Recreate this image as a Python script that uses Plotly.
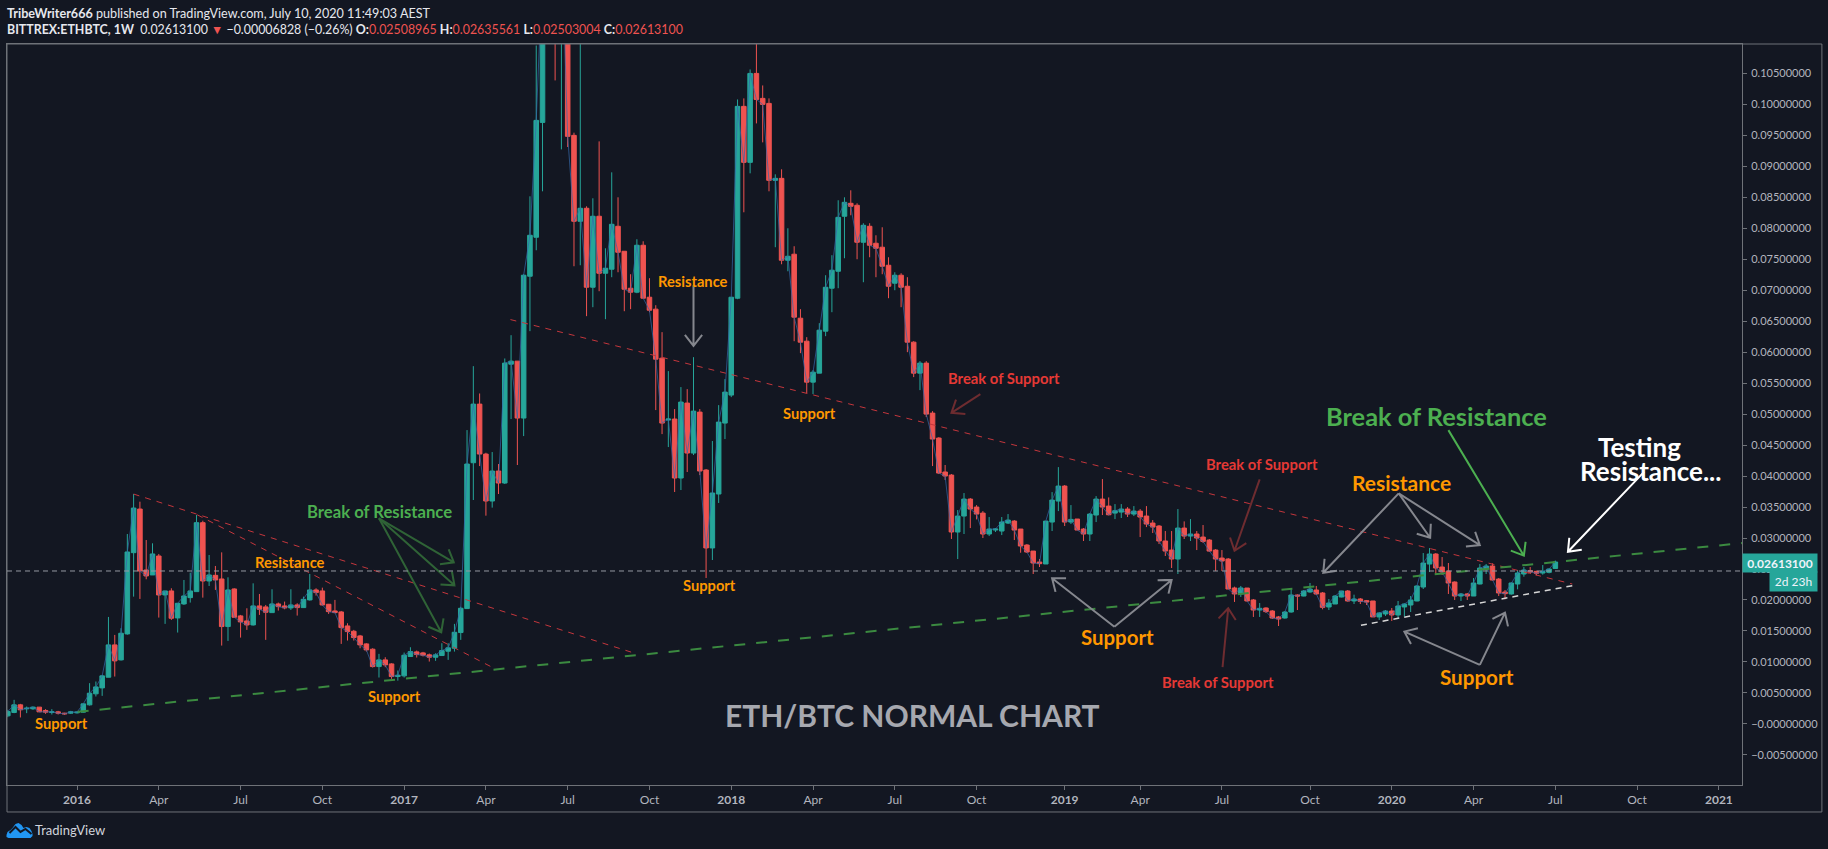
#!/usr/bin/python3
import numpy as np
import pandas as pd
import plotly.graph_objects as go

# weekly ETHBTC candles, values in mBTC
opens = [1.30,1.84,3.07,2.43,2.43,2.70,2.16,1.84,1.94,1.73,
 1.73,1.78,1.89,3.07,4.85,5.81,7.53,12.75,10.33,14.52,
 27.64,34.68,24.84,24.04,27.10,20.81,21.46,17.10,19.36,20.38,
 21.35,32.48,23.07,23.98,23.39,15.71,21.78,17.43,16.62,15.97,
 19.04,18.88,17.96,19.36,19.04,18.72,19.20,18.77,20.01,21.62,
 21.46,19.31,18.23,18.07,15.81,14.95,14.20,12.91,12.05,9.25,
 10.33,9.68,7.64,7.75,10.87,11.62,11.46,11.14,10.76,11.03,
 11.73,12.21,14.74,18.61,42.16,51.62,43.56,35.98,40.82,38.88,
 58.07,58.56,49.37,72.27,78.56,97.10,122,128,118,127,
 95.01,81.14,83.24,70.49,81.95,72.75,73.40,80.33,76.30,70.33,
 69.69,77.27,68.88,66.95,59.04,49.05,49.21,39.69,51.79,43.72,
 50.33,40.98,28.40,37.11,48.56,53.08,68.72,99.69,90.65,105.01,
 100.98,100.17,87.75,88.07,74.85,75.82,65.49,61.78,55.17,56.62,
 63.40,70.33,73.07,81.95,84.04,83.72,77.75,80.33,77.59,76.95,
 74.04,71.14,72.43,70.65,61.62,56.62,58.24,50.17,46.14,40.66,
 40.17,30.97,33.55,36.29,35.0,34.03,30.65,31.29,31.13,32.42,
 32.74,31.45,28.87,27.90,26.13,25.81,32.58,35.97,38.39,32.58,
 33.07,31.45,30.65,33.71,36.29,35.16,34.03,34.19,34.68,33.87,
 34.35,33.55,32.42,31.94,29.52,28.06,26.61,31.61,30.32,30.65,
 30.16,29.68,28.06,26.77,26.61,21.94,20.97,21.93,20.0,18.38,
 18.71,18.22,17.26,17.09,18.06,20.80,20.64,21.29,21.61,21.13,
 18.87,19.35,20.48,21.45,19.84,20.16,19.89,19.84,17.26,17.74,
 18.22,17.58,18.87,19.19,19.84,22.09,25.80,27.42,25.32,24.67,
 22.90,20.64,20.97,20.64,22.58,25.0,25.48,23.38,21.29,20.97,
 22.58,24.19,24.73,24.62,24.35,24.46,25.09]
highs = [2.27,3.88,3.23,2.80,2.80,2.72,2.37,2.37,2.10,1.78,
 2.10,2.00,3.34,6.57,6.84,7.91,17.26,14.36,15.44,30.65,
 37.10,35.87,29.68,29.15,27.43,21.46,21.89,19.47,23.23,24.41,
 33.72,32.80,27.26,25.49,27.69,23.66,21.89,17.59,18.66,22.69,
 20.97,19.20,21.73,19.58,19.74,21.73,19.47,20.54,24.20,21.89,
 21.99,19.36,20.01,18.23,16.24,15.17,14.36,13.02,12.21,11.30,
 10.76,9.79,8.61,11.51,12.37,11.83,11.62,11.35,11.40,13.02,
 13.02,16.14,18.9,47.43,57.75,53.34,43.77,43.88,41.95,58.99,
 62.75,58.56,72.59,85.17,109.52,133,138,156,140,131,
 95.44,112,83.56,84.85,94.04,76.78,89.04,85.01,76.30,72.59,
 78.24,77.91,71.95,67.59,63.24,56.95,50.82,54.37,54.04,59.20,
 50.82,41.14,45.66,51.46,55.66,68.88,100.81,100.98,105.65,112,
 103.07,100.98,88.72,89.53,80.01,77.11,66.95,62.43,57.11,64.69,
 72.43,75.66,84.53,85.01,86.14,84.04,80.82,80.82,78.88,80.17,
 75.33,72.91,72.75,72.11,61.78,58.56,58.56,50.49,46.30,41.79,
 40.33,34.52,37.26,36.45,35.32,34.35,33.39,31.61,33.39,33.87,
 32.90,31.45,29.03,27.90,26.61,32.74,37.42,41.45,38.55,35.32,
 33.07,31.61,34.03,36.77,39.52,36.56,35.48,35.48,35.0,35.16,
 34.68,35.16,32.90,32.10,31.13,31.13,34.68,32.69,33.06,31.13,
 32.10,29.84,28.22,28.06,26.77,22.15,22.26,21.93,20.16,19.51,
 18.81,18.38,17.42,18.22,21.93,20.9,21.61,22.74,22.26,21.29,
 20.16,20.80,21.45,21.61,20.86,20.32,20.0,19.84,18.01,18.38,
 18.71,19.84,19.46,20.64,22.36,27.58,28.38,27.58,26.93,25.97,
 23.01,21.13,21.13,23.55,25.80,25.80,25.91,23.55,21.61,22.85,
 24.84,25.32,25.32,24.73,25.64,25.05,26.36]
lows = [1.08,1.73,1.03,1.73,2.27,1.94,1.62,1.51,1.51,1.46,
 1.62,1.67,1.84,2.96,4.42,4.52,7.53,7.64,10.22,14.4,
 20.54,20.17,23.34,24.04,17.16,16.14,16.78,14.74,19.20,19.58,
 21.35,20.38,22.26,21.62,12.64,13.39,17.21,13.93,15.17,15.87,
 17.59,13.56,17.96,18.29,18.50,18.39,17.48,18.72,19.90,20.71,
 19.09,17.75,17.86,12.91,13.45,13.45,12.21,11.67,9.09,7.48,
 9.15,7.27,6.98,7.48,10.81,10.71,10.87,10.06,10.17,10.97,
 10.33,11.67,13.56,18.61,36.14,41.62,33.61,34.91,37.11,38.72,
 49.21,41.79,46.46,63.40,76.46,85.98,112,103.88,92.75,93.13,
 73.88,74.04,65.82,67.27,69.85,65.33,72.11,72.91,66.62,66.95,
 69.53,68.72,66.46,50.66,46.78,44.69,37.43,37.75,40.66,43.40,
 40.17,23.55,26.45,35.66,45.98,52.75,68.56,82.59,88.88,96.94,
 93.88,85.98,76.95,74.20,73.07,61.78,59.85,53.40,53.24,56.62,
 62.59,66.46,70.33,75.17,82.11,75.01,71.30,75.33,72.11,72.59,
 68.72,70.01,67.27,60.01,55.98,53.88,49.53,41.62,40.33,39.37,
 29.85,26.61,30.65,31.61,33.01,30.0,30.32,30.97,30.48,32.26,
 29.68,27.63,27.58,24.19,25.32,25.81,31.13,34.35,31.94,32.26,
 31.29,29.52,29.52,32.58,33.71,33.66,33.06,33.23,33.39,33.55,
 30.16,31.77,30.81,29.03,27.10,25.16,24.19,29.84,29.52,28.06,
 29.19,27.74,24.68,24.68,21.77,19.68,20.49,19.73,17.26,17.26,
 17.90,16.93,15.80,16.99,17.95,18.38,20.59,21.18,20.80,18.49,
 18.38,19.35,20.43,19.73,19.35,19.35,19.19,17.26,16.77,17.42,
 16.61,16.93,17.31,18.06,19.78,21.77,24.51,24.03,24.03,20.97,
 20.0,19.84,20.0,20.64,22.52,24.19,23.12,20.64,20.11,20.86,
 21.72,23.76,24.19,23.98,24.08,24.30,25.03]
closes = [2.00,3.07,2.27,2.53,2.70,1.94,1.89,1.94,1.73,1.62,
 1.94,1.89,3.23,4.95,5.97,7.75,12.75,10.17,14.63,27.75,
 34.84,24.68,23.88,27.43,20.81,21.46,17.05,19.47,20.65,21.46,
 32.48,23.07,24.04,23.23,15.71,21.62,17.21,16.46,15.97,19.04,
 18.50,18.02,19.36,18.93,18.72,19.20,18.77,20.11,21.62,21.19,
 19.20,18.12,17.96,15.54,14.90,13.93,12.75,11.94,9.25,10.33,
 9.52,7.64,7.86,11.08,11.67,11.19,11.08,10.76,11.14,11.83,
 12.27,14.79,18.66,41.95,51.62,43.56,35.98,40.82,38.88,58.24,
 58.56,49.37,72.43,78.88,97.43,122,128,118,127,94.85,
 81.14,83.24,70.49,81.95,72.75,73.56,80.65,76.14,70.17,69.69,
 77.27,68.72,66.78,58.88,48.56,49.21,39.69,51.95,43.72,50.49,
 40.82,28.40,37.27,48.72,53.56,68.88,99.69,90.65,105.01,100.81,
 100.01,87.75,88.07,74.85,75.49,65.66,61.62,55.17,56.78,63.56,
 70.49,73.24,81.78,84.20,83.56,77.75,80.49,77.27,76.78,73.88,
 70.65,72.43,70.49,61.62,56.62,58.24,50.01,45.98,40.49,40.01,
 30.98,33.55,36.29,34.68,33.87,30.65,31.45,31.45,32.58,32.90,
 31.29,28.71,27.74,25.97,25.86,32.74,36.13,38.39,32.58,33.01,
 31.29,30.65,33.87,36.29,35.0,33.76,34.41,34.68,33.87,34.35,
 33.39,32.26,31.77,29.52,27.90,26.61,31.61,30.32,30.65,30.0,
 29.46,27.90,26.61,26.29,21.77,20.97,21.94,19.84,18.38,18.65,
 18.12,17.09,16.93,18.06,20.80,20.64,21.45,21.77,20.97,18.81,
 19.51,20.64,21.45,19.84,20.16,19.78,19.67,17.26,17.90,18.22,
 17.58,19.03,19.35,20.0,22.26,25.97,27.42,25.16,24.51,22.74,
 20.64,20.97,20.64,22.74,25.16,25.48,23.22,21.13,21.02,22.74,
 24.35,24.84,24.51,24.30,24.62,25.0,26.13]

first_bar = pd.Timestamp("2015-10-19")
dates = pd.date_range(first_bar, periods=len(closes), freq="7D")

y_ticks = [round(-0.005 + i * 0.005, 3) for i in range(23)]
x_tick_dates = ["2016-01-04", "2016-04-04", "2016-07-04", "2016-10-03",
                "2017-01-02", "2017-04-03", "2017-07-03", "2017-10-02",
                "2018-01-01", "2018-04-02", "2018-07-02", "2018-10-01",
                "2019-01-07", "2019-04-01", "2019-07-01", "2019-10-07",
                "2020-01-06", "2020-04-06", "2020-07-06", "2020-10-05",
                "2021-01-04"]
x_tick_text = ["<b>2016</b>", "Apr", "Jul", "Oct", "<b>2017</b>", "Apr", "Jul", "Oct",
               "<b>2018</b>", "Apr", "Jul", "Oct", "<b>2019</b>", "Apr", "Jul", "Oct",
               "<b>2020</b>", "Apr", "Jul", "Oct", "<b>2021</b>"]

# drawings, as (weeks since first bar, price)
hline_price = 0.02468
red_trend_1 = [(20.0, 0.03710), (99.5, 0.01145)]
red_trend_2 = [(30.1, 0.03376), (77.5, 0.00887)]
red_trend_3 = [(79.9, 0.06527), (248.7, 0.02258)]
green_trend = [(11.1, 0.00194), (275.7, 0.02919)]
white_trend = [(215.1, 0.01592), (248.7, 0.02231)]

dark_green_arrows = [((59.0, 0.03318), (70.9, 0.02608)),
                     ((59.0, 0.03318), (71.0, 0.02237)),
                     ((59.0, 0.03318), (68.9, 0.01479))]
grey_arrows = [((109.0, 0.07081), (109.0, 0.06102)),
               ((175.9, 0.01569), (166.0, 0.02350)),
               ((175.9, 0.01569), (185.0, 0.02323)),
               ((221.1, 0.03721), (209.1, 0.02440)),
               ((221.1, 0.03721), (226.1, 0.03005)),
               ((221.1, 0.03721), (234.0, 0.02887)),
               ((234.0, 0.00952), (222.0, 0.01489)),
               ((234.0, 0.00952), (238.0, 0.01795))]
dark_red_arrows = [((154.6, 0.05323), (150.0, 0.05021)),
                   ((199.0, 0.03947), (195.0, 0.02795)),
                   ((193.1, 0.00915), (194.0, 0.01866))]
green_arrows = [((229.0, 0.04742), (241.0, 0.02715))]
white_arrows = [((260.1, 0.04069), (248.0, 0.02779))]

ORANGE = "#ff9800"
GREEN = "#4caf50"
RED = "#e53935"
labels = [("Support", 8.5, 0.00011, ORANGE, 14.7),
          ("Support", 61.5, 0.00456, ORANGE, 14.7),
          ("Resistance", 44.9, 0.02608, ORANGE, 14.7),
          ("Break of Resistance", 59.1, 0.03424, GREEN, 16.7),
          ("Resistance", 108.9, 0.07145, ORANGE, 14.7),
          ("Support", 127.5, 0.05011, ORANGE, 14.7),
          ("Support", 111.6, 0.02242, ORANGE, 14.7),
          ("Break of Support", 158.3, 0.05584, RED, 14.8),
          ("Break of Support", 199.3, 0.04189, RED, 14.8),
          ("Break of Support", 192.3, 0.00673, RED, 14.8),
          ("Support", 176.4, 0.01398, ORANGE, 20.4),
          ("Resistance", 221.5, 0.03898, ORANGE, 21),
          ("Support", 233.5, 0.00763, ORANGE, 20.6),
          ("Break of Resistance", 227.1, 0.04968, GREEN, 25.4),
          ("Testing", 259.4, 0.04473, "#ffffff", 26),
          ("Resistance...", 261.2, 0.04085, "#ffffff", 26),
          ("ETH/BTC NORMAL CHART", 143.8, 0.00150, "#a6a8af", 30)]

BG = "#131722"
BORDER = "#6f7278"
AXIS_TEXT = "#b2b5be"
FONT = "Lato"

# plot box, in pixels of the 1828x849 page
PLOT_L, PLOT_R, PLOT_T, PLOT_B = 6.5, 1741.7, 43.5, 785.0
PX_PER_BAR = 6.29
PX_PER_PRICE = 6200.0


def bar_date(bar):
    return first_bar + pd.Timedelta(days=float(bar) * 7)


def paper_x(px):
    return (px - PLOT_L) / (PLOT_R - PLOT_L)


def paper_y(py):
    return (PLOT_B - py) / (PLOT_B - PLOT_T)


def line_trace(points, color, width, dash="solid"):
    return go.Scatter(x=[None if p[0] is None else bar_date(p[0]) for p in points],
                      y=[p[1] for p in points], mode="lines",
                      line=dict(color=color, width=width, dash=dash),
                      hoverinfo="skip", showlegend=False)


def arrow_points(tail, tip, arm=14.0, spread=np.radians(38)):
    # head arms worked out in screen space so they look the same on every arrow
    dx = (tip[0] - tail[0]) * PX_PER_BAR
    dy = (tip[1] - tail[1]) * PX_PER_PRICE
    n = np.hypot(dx, dy)
    ux, uy = dx / n, dy / n
    pts = [tail, tip]
    for sign in (1, -1):
        ca, sa = np.cos(spread), np.sin(sign * spread)
        ax = -(ux * ca - uy * sa) * arm
        ay = -(ux * sa + uy * ca) * arm
        pts.append((tip[0] + ax / PX_PER_BAR, tip[1] + ay / PX_PER_PRICE))
        pts.append(tip)
    return pts + [(None, None)]


def arrows_trace(arrows, color, width=2):
    pts = []
    for tail, tip in arrows:
        pts += arrow_points(tail, tip)
    return line_trace(pts, color, width)


fig = go.Figure()
fig.add_trace(go.Candlestick(
    x=dates,
    open=np.array(opens) / 1000, high=np.array(highs) / 1000,
    low=np.array(lows) / 1000, close=np.array(closes) / 1000,
    increasing=dict(line=dict(color="#26a69a", width=1), fillcolor="#26a69a"),
    decreasing=dict(line=dict(color="#ef5350", width=1), fillcolor="#ef5350"),
    whiskerwidth=0, showlegend=False))
fig.add_trace(go.Scatter(x=dates, y=np.array(closes) / 1000, mode="lines",
                         line=dict(color="rgba(52,104,170,0.7)", width=1),
                         hoverinfo="skip", showlegend=False))

fig.add_trace(line_trace(red_trend_1, "#c4363c", 1, "6px,6px"))
fig.add_trace(line_trace(red_trend_2, "#c4363c", 1, "6px,6px"))
fig.add_trace(line_trace(red_trend_3, "#c4363c", 1, "6px,6px"))
fig.add_trace(line_trace(green_trend, "#3b8a40", 2, "11px,11px"))
fig.add_trace(line_trace(white_trend, "#d6d6d6", 1.5, "6px,5px"))
fig.add_trace(arrows_trace(dark_green_arrows, "#2f6336"))
fig.add_trace(arrows_trace(grey_arrows, "#85878e"))
fig.add_trace(arrows_trace(dark_red_arrows, "#6e2c30"))
fig.add_trace(arrows_trace(green_arrows, GREEN))
fig.add_trace(arrows_trace(white_arrows, "#ffffff"))

annotations = []
for text, bar, price, color, size in labels:
    annotations.append(dict(x=bar_date(bar), y=price, xref="x", yref="y", text=f"<b>{text}</b>",
                            showarrow=False, align="center",
                            font=dict(family=FONT, color=color, size=size)))

red_val = '<span style="color:#ef5350">%s</span>'
header = [
    (4.5, 13, 12.6, "<b>TribeWriter666</b> published on TradingView.com, July 10, 2020 11:49:03 AEST"),
    (4.5, 29, 12.4, "<b>BITTREX:ETHBTC, 1W</b>  0.02613100 <span style=\"color:#ef5350\">▼</span> "
            "−0.00006828 (−0.26%) <b>O:</b>" + red_val % "0.02508965" +
            " <b>H:</b>" + red_val % "0.02635561" + " <b>L:</b>" + red_val % "0.02503004" +
            " <b>C:</b>" + red_val % "0.02613100"),
]
for px, py, size, text in header:
    annotations.append(dict(x=paper_x(px), y=paper_y(py), xref="paper", yref="paper", text=text,
                            showarrow=False, xanchor="left", yanchor="middle",
                            font=dict(family=FONT, color="#e6e8ee", size=size)))
annotations.append(dict(x=paper_x(33), y=paper_y(830.5), xref="paper", yref="paper", text="TradingView",
                        showarrow=False, xanchor="left", yanchor="middle",
                        font=dict(family=FONT, color="#d1d4dc", size=13)))
annotations.append(dict(x=paper_x(1741.7), y=paper_y(563.3), xref="paper", yref="paper", text="<b>0.02613100</b>",
                        showarrow=False, xanchor="left", yanchor="middle", align="center",
                        width=72, height=16, bgcolor="#26a69a",
                        font=dict(family=FONT, color="#f0f3fa", size=12)))
annotations.append(dict(x=paper_x(1769), y=paper_y(581.5), xref="paper", yref="paper", text="2d 23h",
                        showarrow=False, xanchor="left", yanchor="middle", align="center",
                        width=45, height=17, bgcolor="#26a69a",
                        font=dict(family=FONT, color="#f0f3fa", size=12)))

logo_x = [6, 7, 10, 12, 15, 18, 21, 23, 26, 29, 31, 32, 32, 30, 8, 6, 6]
logo_y = [835, 832, 830, 828, 824, 823, 825, 828, 827, 828, 831, 834, 836, 838, 838, 837, 835]
logo_path = "M" + " L".join(f"{paper_x(a):.5f},{paper_y(b):.5f}" for a, b in zip(logo_x, logo_y)) + " Z"
zig_x = [9, 15, 20, 25, 31]
zig_y = [833, 827, 832, 829, 834]
zig_path = "M" + " L".join(f"{paper_x(a):.5f},{paper_y(b):.5f}" for a, b in zip(zig_x, zig_y))

shapes = [
    dict(type="rect", xref="paper", yref="paper", x0=0, x1=paper_x(1821.6), y0=paper_y(812), y1=1,
         line=dict(color=BORDER, width=1), layer="above"),
    dict(type="line", xref="paper", yref="y", x0=0, x1=1, y0=hline_price, y1=hline_price,
         line=dict(color="#9598a1", width=1, dash="5px,4px"), layer="above"),
    dict(type="path", xref="paper", yref="paper", path=logo_path, fillcolor="#2196f3",
         line=dict(width=0), layer="above"),
    dict(type="path", xref="paper", yref="paper", path=zig_path, line=dict(color=BG, width=2), layer="above"),
]

fig.update_layout(
    width=1828, height=849, autosize=False,
    margin=dict(l=PLOT_L, r=1828 - PLOT_R, t=PLOT_T, b=849 - PLOT_B, pad=0),
    paper_bgcolor=BG, plot_bgcolor=BG,
    showlegend=False, boxgap=0.15, boxgroupgap=0.15,
    hovermode=False,
    annotations=annotations, shapes=shapes,
    xaxis=dict(type="date", rangeslider=dict(visible=False),
               range=[first_bar - pd.Timedelta(days=0.9), first_bar + pd.Timedelta(days=1929.7)],
               tickmode="array", tickvals=x_tick_dates, ticktext=x_tick_text,
               ticks="outside", ticklen=4, tickcolor=BORDER, tickfont=dict(family=FONT, color=AXIS_TEXT, size=12),
               showgrid=False, zeroline=False, showline=True, linecolor=BORDER, linewidth=1, mirror=True),
    yaxis=dict(side="right", range=[-0.00987, 0.10976], tickmode="array", tickvals=y_ticks,
               ticktext=[("−" if v <= 0 else "") + f"{abs(v):.8f}" for v in y_ticks],
               ticks="outside", ticklen=4, tickcolor=BORDER, tickfont=dict(family=FONT, color=AXIS_TEXT, size=11),
               ticklabelstandoff=2,
               showgrid=False, zeroline=False, showline=True, linecolor=BORDER, linewidth=1, mirror=True),
)

fig.write_html("out.html", config=dict(displayModeBar=False),
               post_script="document.body.style.margin='0';document.body.style.background='#131722';")
